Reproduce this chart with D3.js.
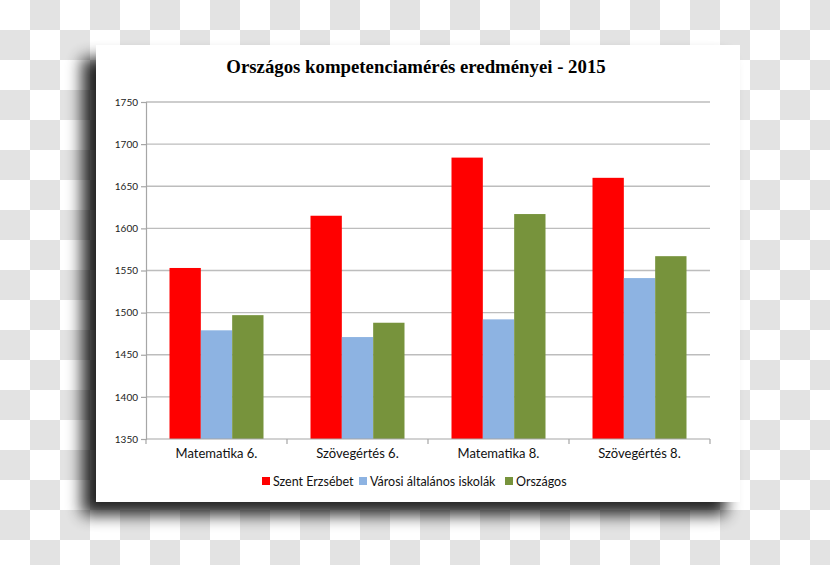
<!DOCTYPE html>
<html>
<head>
<meta charset="utf-8">
<script src="https://cdn.jsdelivr.net/npm/d3@7"></script>
<style>
  html, body { margin: 0; padding: 0; background: #fff; }
  svg { display: block; }
</style>
</head>
<body>
<svg id="chart" width="830" height="565"></svg>
<script>
const title = "Országos kompetenciamérés eredményei - 2015";
const categories = ["Matematika 6.", "Szövegértés 6.", "Matematika 8.", "Szövegértés 8."];
const seriesNames = ["Szent Erzsébet", "Városi általános iskolák", "Országos"];
const szentErzsebet = [1553, 1615, 1684, 1660];
const varosi = [1479, 1471, 1492, 1541];
const orszagos = [1497, 1488, 1617, 1567];
const yTicks = [1350, 1400, 1450, 1500, 1550, 1600, 1650, 1700, 1750];
const colors = ["#ff0000", "#8db3e2", "#77933c"];

const seriesValues = [szentErzsebet, varosi, orszagos];

const svg = d3.select("#chart");
const W = 830, H = 565;

// checkerboard background
const defs = svg.append("defs");
const pat = defs.append("pattern").attr("id", "checker")
  .attr("width", 60).attr("height", 60).attr("patternUnits", "userSpaceOnUse");
pat.append("rect").attr("width", 60).attr("height", 60).attr("fill", "#ffffff");
pat.append("rect").attr("x", 30).attr("y", 0).attr("width", 30).attr("height", 30).attr("fill", "#e3e3e3");
pat.append("rect").attr("x", 0).attr("y", 30).attr("width", 30).attr("height", 30).attr("fill", "#e3e3e3");
svg.append("rect").attr("width", W).attr("height", H).attr("fill", "url(#checker)");

// card with shadow
const card = {x: 96, y: 45, w: 644, h: 457};
const blur = defs.append("filter").attr("id", "blur")
  .attr("x", "-20%").attr("y", "-20%").attr("width", "140%").attr("height", "140%");
blur.append("feGaussianBlur").attr("stdDeviation", 8);
svg.append("rect")
  .attr("x", card.x - 14).attr("y", card.y + 13)
  .attr("width", card.w).attr("height", card.h)
  .attr("fill", "#000").attr("opacity", 0.85)
  .attr("filter", "url(#blur)");
svg.append("rect")
  .attr("x", card.x).attr("y", card.y)
  .attr("width", card.w).attr("height", card.h)
  .attr("fill", "#fff");

// title
svg.append("text")
  .attr("x", 416).attr("y", 73)
  .attr("text-anchor", "middle")
  .attr("font-family", "'Liberation Serif', 'Times New Roman', serif")
  .attr("font-weight", "bold")
  .attr("font-size", 18.8)
  .attr("fill", "#000")
  .text(title);

// scales
const plot = {left: 146, right: 710, top: 102, bottom: 439};
const x0 = d3.scaleBand().domain(categories).range([plot.left, plot.right]).paddingInner(0).paddingOuter(0);
const x1 = d3.scaleBand().domain(d3.range(seriesNames.length)).range([0, x0.bandwidth()]).paddingInner(0).paddingOuter(0.75);
const y = d3.scaleLinear().domain([1350, 1750]).range([plot.bottom, plot.top]);

// gridlines
svg.append("g").selectAll("line").data(yTicks.filter(t => t > 1350)).join("line")
  .attr("x1", plot.left).attr("x2", plot.right)
  .attr("y1", d => y(d)).attr("y2", d => y(d))
  .attr("stroke", "#bdbdbd").attr("stroke-width", 1.3);

// bars
const groups = svg.append("g").selectAll("g").data(categories).join("g")
  .attr("transform", d => `translate(${x0(d)},0)`);
groups.selectAll("rect").data((c, ci) => seriesValues.map((s, si) => ({si, v: s[ci]}))).join("rect")
  .attr("x", d => x1(d.si))
  .attr("width", x1.bandwidth())
  .attr("y", d => y(d.v))
  .attr("height", d => y(1350) - y(d.v))
  .attr("fill", d => colors[d.si]);

// y axis
const yAxis = d3.axisLeft(y).tickValues(yTicks).tickSize(5).tickPadding(3).tickFormat(d3.format("d"));
const yg = svg.append("g").attr("transform", `translate(${plot.left},0)`).call(yAxis);
yg.select(".domain").attr("stroke", "#a6a6a6").attr("stroke-width", 1.2);
yg.selectAll(".tick line").attr("stroke", "#a6a6a6").attr("stroke-width", 1.2);
yg.selectAll(".tick text")
  .attr("font-family", "Lato, 'Open Sans', sans-serif")
  .attr("font-size", 10).attr("fill", "#222");

// x axis
const xg = svg.append("g").attr("transform", `translate(0,${plot.bottom})`);
xg.append("line").attr("x1", plot.left).attr("x2", plot.right)
  .attr("stroke", "#a6a6a6").attr("stroke-width", 1.2);
const bounds = categories.map(c => x0(c)).concat([plot.right]);
xg.selectAll("line.t").data(bounds).join("line").attr("class", "t")
  .attr("x1", d => d).attr("x2", d => d).attr("y1", 0).attr("y2", 5)
  .attr("stroke", "#a6a6a6").attr("stroke-width", 1.2);
xg.selectAll("text").data(categories).join("text")
  .attr("x", d => x0(d) + x0.bandwidth() / 2)
  .attr("y", 19)
  .attr("text-anchor", "middle")
  .attr("font-family", "Lato, 'Open Sans', sans-serif")
  .attr("font-size", 13).attr("fill", "#111")
  .text(d => d);

// legend
const legendX = [262, 359, 505];
const lg = svg.append("g").selectAll("g").data(seriesNames).join("g")
  .attr("transform", (d, i) => `translate(${legendX[i]},481)`);
lg.append("rect").attr("x", 0).attr("y", -4).attr("width", 8).attr("height", 8)
  .attr("fill", (d, i) => colors[i]);
lg.append("text").attr("x", 11).attr("y", 4.5)
  .attr("font-family", "Lato, 'Open Sans', sans-serif")
  .attr("font-size", 12.5).attr("fill", "#111")
  .text(d => d);
</script>
</body>
</html>
